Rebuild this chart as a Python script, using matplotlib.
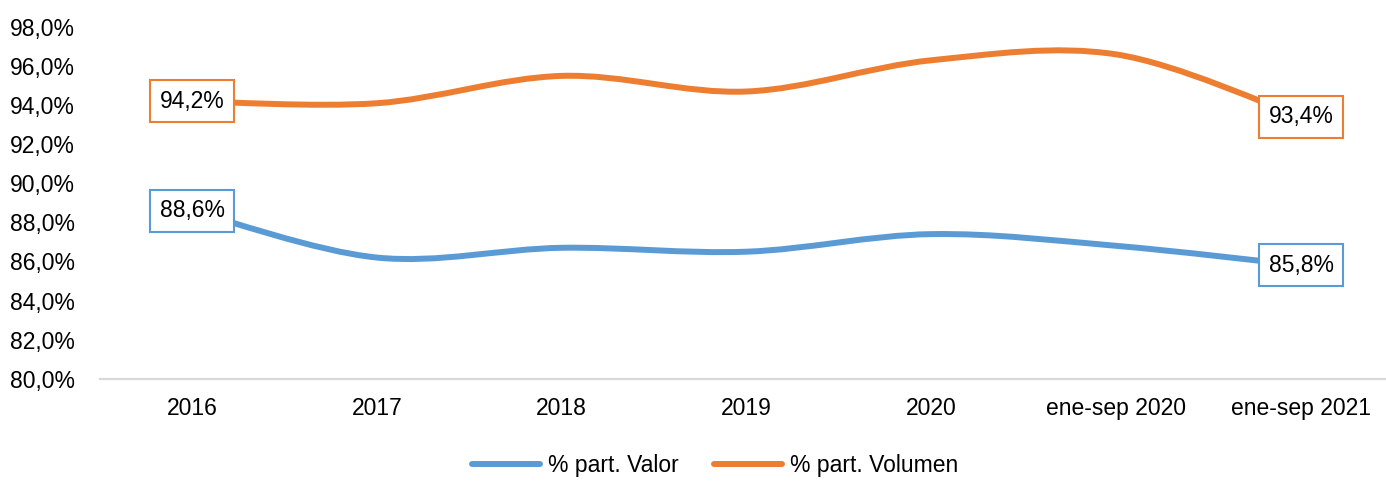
import matplotlib
matplotlib.use("Agg")
import matplotlib.pyplot as plt
from matplotlib.path import Path
from matplotlib.patches import PathPatch
from matplotlib.lines import Line2D
import numpy as np

plt.rcParams['font.family'] = ['Liberation Sans', 'DejaVu Sans']

# === Data ===
categories = ["2016", "2017", "2018", "2019", "2020", "ene-sep 2020", "ene-sep 2021"]
valor = [88.6, 86.2, 86.7, 86.5, 87.4, 86.8, 85.8]
volumen = [94.2, 94.1, 95.5, 94.7, 96.3, 96.6, 93.4]

series = [
    ("% part. Valor", valor, "#5B9BD5"),
    ("% part. Volumen", volumen, "#ED7D31"),
]

FS = 16.5


def smooth_path(xs, ys):
    # cubic bezier through the points, spreadsheet-style smoothing
    pts = np.column_stack([xs, ys]).astype(float)
    n = len(pts)
    verts = [pts[0]]
    codes = [Path.MOVETO]
    for i in range(n - 1):
        p0 = pts[i - 1] if i > 0 else pts[i]
        p1 = pts[i]
        p2 = pts[i + 1]
        p3 = pts[i + 2] if i + 2 < n else pts[i + 1]
        c1 = p1 + (p2 - p0) / 6.0
        c2 = p2 - (p3 - p1) / 6.0
        verts += [c1, c2, p2]
        codes += [Path.CURVE4] * 3
    return Path(verts, codes)


fig = plt.figure(figsize=(13.86, 4.83), dpi=100)
ax = fig.add_axes([0.0719, 0.216, 0.9335, 0.728])

x = np.arange(len(categories))
handles = []
for name, vals, color in series:
    patch = PathPatch(smooth_path(x, vals), facecolor="none", edgecolor=color,
                      lw=4.3, capstyle="round", joinstyle="round", zorder=3)
    ax.add_patch(patch)
    handles.append(Line2D([], [], color=color, lw=4.3, solid_capstyle="round", label=name))
    # value boxes on first and last point
    for i in (0, len(vals) - 1):
        ax.text(x[i], vals[i], f"{vals[i]:.1f}%".replace(".", ","),
                ha="center", va="center", fontsize=FS, zorder=5,
                bbox=dict(boxstyle="square,pad=0.42", facecolor="white",
                          edgecolor=color, linewidth=1.5))

ax.set_xlim(-0.5, len(categories) - 0.5)
ax.set_ylim(80, 98)
ax.set_xticks(x)
ax.set_xticklabels(categories, fontsize=FS)
yticks = np.arange(80, 98.1, 2)
ax.set_yticks(yticks)
ax.set_yticklabels([f"{v:.1f}%".replace(".", ",") for v in yticks], fontsize=FS)
ax.tick_params(axis="x", length=0, pad=13)
ax.tick_params(axis="y", length=0, pad=18)

for side in ("top", "right", "left"):
    ax.spines[side].set_visible(False)
ax.spines["bottom"].set_color("#d9d9d9")
ax.spines["bottom"].set_linewidth(1.6)

fig.legend(handles=handles, loc="lower center", bbox_to_anchor=(0.516, -0.03), ncol=2,
           frameon=False, fontsize=FS, handlelength=3.0, columnspacing=1.5, handletextpad=0.35)

fig.savefig("out.png", dpi=100, facecolor="white")
